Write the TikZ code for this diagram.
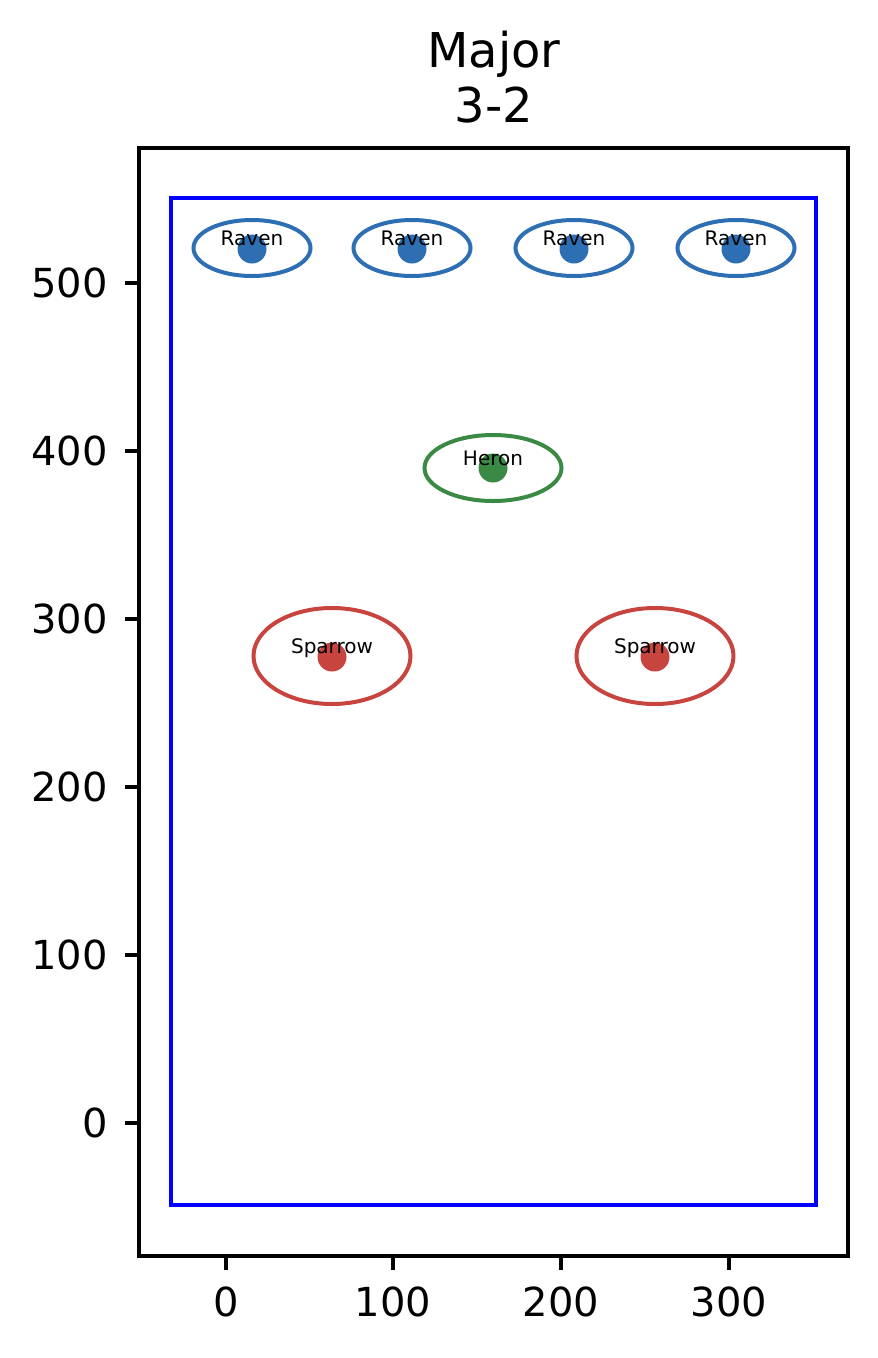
\documentclass[tikz,border=0pt]{standalone}
\usepackage{fontspec}
\setmainfont{DejaVu Sans}
\usetikzlibrary{shapes.geometric}
\definecolor{rvblue}{HTML}{2E6FB4}
\definecolor{hgreen}{HTML}{3A8A46}
\definecolor{sred}{HTML}{C8443F}
\begin{document}
\begin{tikzpicture}[x=1pt,y=-1pt,
  frame/.style={draw=black,line width=3.5pt},
  tickline/.style={draw=black,line width=3.5pt},
  ticklab/.style={inner sep=0pt,font=\fontsize{40}{48}\selectfont},
  ell/.style={ellipse,draw,line width=4pt,inner sep=0pt},
  dot/.style={circle,inner sep=0pt,minimum size=29pt},
  lab/.style={inner sep=0pt,anchor=base,font=\fontsize{20}{24}\selectfont},
  ttl/.style={inner sep=0pt,anchor=base,font=\fontsize{48}{56}\selectfont}]
\useasboundingbox (0,0) rectangle (878,1358);
% title
\node[ttl] (t1) at (494,67) {Major};
\node[ttl] (t2) at (494,122) {3-2};
% axes frame
\draw[frame] (139,148) rectangle (848,1256);
% x ticks
\foreach \xv/\lbl/\nm in {226/0/xa,393/100/xb,561/200/xc,729/300/xd}{
  \coordinate (\nm t) at (\xv,1256);
  \coordinate (\nm b) at (\xv,1270);
  \draw[tickline] (\nm t) -- (\nm b);
  \node[ticklab,anchor=north] (\nm l) at (\xv,1287) {\lbl};
}
% y ticks
\foreach \yv/\lbl/\nm in {283/500/ya,451/400/yb,619/300/yc,787/200/yd,955/100/ye,1123/0/yf}{
  \coordinate (\nm t) at (139,\yv);
  \coordinate (\nm b) at (125,\yv);
  \draw[tickline] (\nm t) -- (\nm b);
  \node[ticklab,anchor=east] (\nm l) at (108,\yv) {\lbl};
}
% blue rectangle
\draw[blue,line width=3.5pt] (171,198) rectangle (816,1205);
% ravens
\foreach \xv/\nm in {252/ra,412/rb,574/rc,736/rd}{
  \node[ell,draw=rvblue,minimum width=117pt,minimum height=56pt] (\nm e) at (\xv,248) {};
  \node[dot,fill=rvblue] (\nm d) at (\xv,249) {};
  \node[lab] (\nm l) at (\xv,245) {Raven};
}
% heron
\node[ell,draw=hgreen,minimum width=137pt,minimum height=66pt] (he) at (493,468) {};
\node[dot,fill=hgreen] (hd) at (493,468) {};
\node[lab] (hl) at (493,465) {Heron};
% sparrows
\foreach \xv/\nm in {332/sa,655/sb}{
  \node[ell,draw=sred,minimum width=157pt,minimum height=96pt] (\nm e) at (\xv,656) {};
  \node[dot,fill=sred] (\nm d) at (\xv,657) {};
  \node[lab] (\nm l) at (\xv,653) {Sparrow};
}
\end{tikzpicture}
\end{document}
